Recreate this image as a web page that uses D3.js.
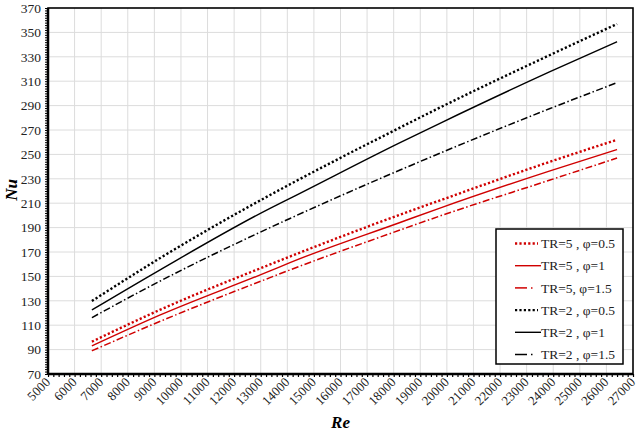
<!DOCTYPE html>
<html>
<head>
<meta charset="utf-8">
<script src="https://cdn.jsdelivr.net/npm/d3@7"></script>
<style>
  body { margin: 0; background: #fff; }
  svg text { font-family: "Liberation Serif", "DejaVu Serif", serif; }
</style>
</head>
<body>
<script>

  var re = [6650, 9200, 13350, 14100, 18240, 19740, 23880, 26400];

  var tr5_05 = [96.5, 122.5, 159.8, 166.3, 200.6, 212.3, 244, 262];
  var tr5_1 = [93, 118.2, 154.5, 161.3, 194.2, 206, 236.5, 254];
  var tr5_15 = [89, 113, 149, 155.3, 188, 199.5, 229, 247];
  var tr2_05 = [129.8, 164.8, 216.7, 225.5, 272, 288.4, 331.5, 356.9];
  var tr2_1 = [122.5, 155.2, 205.8, 214, 259.7, 275.5, 317.8, 342.4];
  var tr2_15 = [116.2, 146, 190, 197.5, 237.2, 251, 287.6, 308.8];

  var xTicks = d3.range(5000, 27001, 1000);
  var yTicks = d3.range(70, 371, 20);

  var series = [
    { name: "TR=5 , \u03c6=0.5", vals: tr5_05, color: "#d00000", kind: "dot" },
    { name: "TR=5 , \u03c6=1",   vals: tr5_1,  color: "#d00000", kind: "solid" },
    { name: "TR=5, \u03c6=1.5",  vals: tr5_15, color: "#d00000", kind: "dashdot" },
    { name: "TR=2 , \u03c6=0.5", vals: tr2_05, color: "#000", kind: "dot" },
    { name: "TR=2 , \u03c6=1",   vals: tr2_1,  color: "#000", kind: "solid" },
    { name: "TR=2 , \u03c6=1.5", vals: tr2_15, color: "#000", kind: "dashdot" }
  ];

  var styles = {
    dot: { w: 2.4, dash: "2.2,2.2" },
    solid: { w: 1.4, dash: null },
    dashdot: { w: 1.5, dash: "7,2.5,1.5,2.5" }
  };

  var FONT = "'Liberation Serif', 'DejaVu Serif', serif";

  var W = 640, H = 435;
  var m = { top: 8, right: 7, bottom: 61, left: 48 };

  var svg = d3.select("body").append("svg")
      .attr("width", W)
      .attr("height", H);

  var x = d3.scaleLinear().domain([5000, 27000]).range([m.left, W - m.right]);
  var y = d3.scaleLinear().domain([70, 370]).range([H - m.bottom, m.top]);

  // grid
  svg.append("g").selectAll("line").data(xTicks.slice(1, -1)).enter().append("line")
    .attr("x1", function(d) { return x(d); }).attr("x2", function(d) { return x(d); })
    .attr("y1", m.top).attr("y2", H - m.bottom)
    .attr("stroke", "#dcdcdc").attr("stroke-width", 1);
  svg.append("g").selectAll("line").data(yTicks.slice(1, -1)).enter().append("line")
    .attr("y1", function(d) { return y(d); }).attr("y2", function(d) { return y(d); })
    .attr("x1", m.left).attr("x2", W - m.right)
    .attr("stroke", "#dcdcdc").attr("stroke-width", 1);

  // minor ticks
  var xAxis = d3.axisBottom(x).tickValues(d3.range(5000, 27001, 200)).tickSize(3).tickFormat("");
  var yAxis = d3.axisLeft(y).tickValues(d3.range(70, 371, 2)).tickSize(3).tickFormat("");
  svg.append("g").attr("transform", "translate(0," + (H - m.bottom) + ")").call(xAxis)
    .call(function(g) { g.select(".domain").remove(); g.selectAll("line").attr("stroke-width", 1.2); });
  svg.append("g").attr("transform", "translate(" + m.left + ",0)").call(yAxis)
    .call(function(g) { g.select(".domain").remove(); g.selectAll("line").attr("stroke-width", 1); });

  // tick labels
  svg.append("g").selectAll("text").data(xTicks).enter().append("text")
    .attr("transform", function(d) { return "translate(" + (x(d) + 3) + "," + (H - m.bottom + 9) + ") rotate(-45)"; })
    .attr("text-anchor", "end")
    .attr("font-family", FONT)
    .attr("font-size", 13)
    .attr("fill", "#222")
    .text(function(d) { return d; });
  svg.append("g").selectAll("text").data(yTicks).enter().append("text")
    .attr("x", m.left - 7)
    .attr("y", function(d) { return y(d); })
    .attr("dy", "0.35em")
    .attr("text-anchor", "end")
    .attr("font-family", FONT)
    .attr("font-size", 13.5)
    .attr("fill", "#222")
    .text(function(d) { return d; });

  // frame
  svg.append("rect")
    .attr("x", m.left).attr("y", m.top)
    .attr("width", W - m.left - m.right).attr("height", H - m.top - m.bottom)
    .attr("fill", "none").attr("stroke", "#000").attr("stroke-width", 1.6);
  svg.append("line").attr("x1", m.left).attr("x2", m.left).attr("y1", m.top).attr("y2", H - m.bottom)
    .attr("stroke", "#000").attr("stroke-width", 2.5);
  svg.append("line").attr("x1", m.left).attr("x2", W - m.right).attr("y1", H - m.bottom).attr("y2", H - m.bottom)
    .attr("stroke", "#000").attr("stroke-width", 2.5);

  // curves
  var line = d3.line()
    .x(function(d) { return x(d[0]); })
    .y(function(d) { return y(d[1]); })
    .curve(d3.curveMonotoneX);

  series.forEach(function(s) {
    var st = styles[s.kind];
    svg.append("path")
      .datum(re.map(function(r, i) { return [r, s.vals[i]]; }))
      .attr("d", line)
      .attr("fill", "none")
      .attr("stroke", s.color)
      .attr("stroke-width", st.w)
      .attr("stroke-dasharray", st.dash);
  });

  // axis titles
  svg.append("text")
    .attr("x", (m.left + W - m.right) / 2).attr("y", 428)
    .attr("text-anchor", "middle")
    .attr("font-family", FONT)
    .attr("font-size", 17).attr("font-weight", "bold").attr("font-style", "italic")
    .text("Re");
  svg.append("text")
    .attr("transform", "translate(17," + 190 + ") rotate(-90)")
    .attr("text-anchor", "middle")
    .attr("font-family", FONT)
    .attr("font-size", 17).attr("font-weight", "bold").attr("font-style", "italic")
    .text("Nu");

  // legend
  var lg = svg.append("g");
  lg.append("rect")
    .attr("x", 496).attr("y", 229).attr("width", 127).attr("height", 135)
    .attr("fill", "#fff").attr("stroke", "#000").attr("stroke-width", 1.5);

  var ly = d3.scalePoint().domain(d3.range(series.length)).range([243.5, 354.5]);

  series.forEach(function(s, i) {
    var st = styles[s.kind];
    var yy = ly(i);
    if (s.kind === "dashdot") {
      lg.append("line").attr("x1", 515).attr("x2", 527).attr("y1", yy).attr("y2", yy)
        .attr("stroke", s.color).attr("stroke-width", st.w);
      lg.append("line").attr("x1", 531).attr("x2", 532.5).attr("y1", yy).attr("y2", yy)
        .attr("stroke", s.color).attr("stroke-width", st.w);
    } else {
      lg.append("line").attr("x1", 515).attr("x2", s.kind === "dot" ? 538 : 541).attr("y1", yy).attr("y2", yy)
        .attr("stroke", s.color).attr("stroke-width", st.w)
        .attr("stroke-dasharray", st.dash);
    }
    lg.append("text")
      .attr("x", 541).attr("y", yy).attr("dy", "0.35em")
      .attr("font-family", FONT)
      .attr("font-size", 13.5).attr("fill", "#222")
      .text(s.name);
  });
</script>
</body>
</html>
